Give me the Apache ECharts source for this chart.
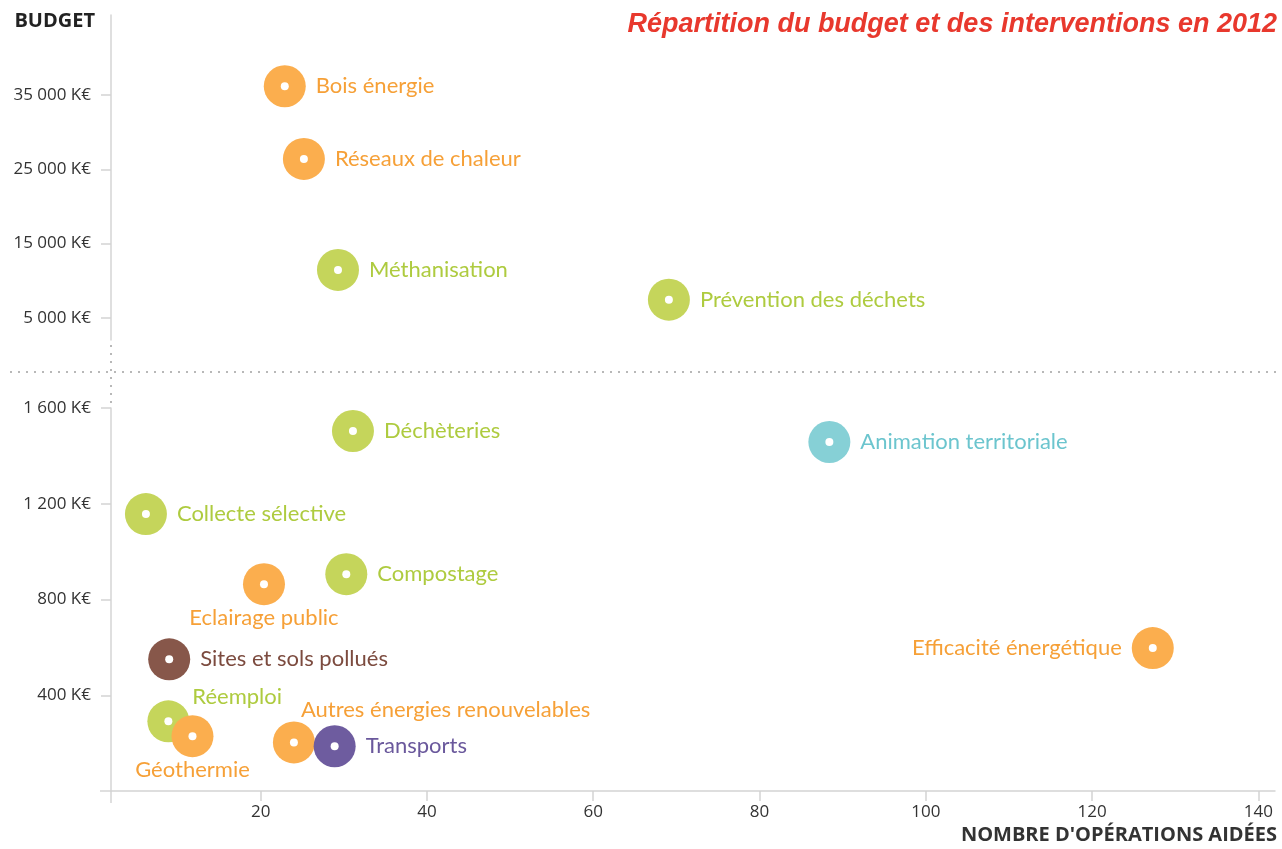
<!DOCTYPE html>
<html>
<head>
<meta charset="utf-8">
<script src="https://cdn.jsdelivr.net/npm/echarts@6/dist/echarts.min.js"></script>
<style>
  html, body { margin: 0; padding: 0; background: #fff; }
  #chart { width: 1282px; height: 849px; }
</style>
</head>
<body>
<div id="chart"></div>
<script>
// données (nombre d'opérations, budget en K€)
const names = [
  'Bois énergie', 'Réseaux de chaleur', 'Méthanisation', 'Prévention des déchets',
  'Déchèteries', 'Animation territoriale', 'Collecte sélective', 'Compostage',
  'Eclairage public', 'Sites et sols pollués', 'Efficacité énergétique',
  'Réemploi', 'Géothermie', 'Autres énergies renouvelables', 'Transports'
];
const operations = [22.9, 25.2, 29.3, 69.1, 31.1, 88.4, 6.2, 30.3, 20.4, 9.0, 127.3, 8.9, 11.8, 24.0, 28.9];
const budgets = [36200, 26400, 11450, 7430, 1504, 1458, 1157, 906, 864, 550, 597, 291, 229, 203, 187];
const filieres = [
  'energie', 'energie', 'dechets', 'dechets',
  'dechets', 'animation', 'dechets', 'dechets',
  'energie', 'sols', 'energie',
  'dechets', 'energie', 'energie', 'transports'
];
const upperTicks = [5000, 15000, 25000, 35000];
const lowerTicks = [400, 800, 1200, 1600];
const xTicks = [20, 40, 60, 80, 100, 120, 140];
const seuil = 1600; // au-dessus : partie haute de l'axe coupé

// couleurs par filière : [disque, texte]
const colors = {
  energie: ['#FBAE4E', '#F6A037'],
  dechets: ['#C5D55B', '#AECB3F'],
  animation: ['#86D0D6', '#6CC5CE'],
  sols: ['#87574A', '#7C4B3F'],
  transports: ['#6E5C9F', '#6A589C']
};

// placement des étiquettes
const labelPos = {
  'Eclairage public': { position: 'bottom', distance: 2 },
  'Géothermie': { position: 'bottom', distance: 2 },
  'Efficacité énergétique': { position: 'left', distance: 10 },
  'Réemploi': { position: 'right', distance: 3, offset: [0, -24] },
  'Autres énergies renouvelables': { position: 'right', distance: 5, offset: [-19, -33] }
};

const font = 'Lato, "Open Sans", sans-serif';
const axisFont = '"Open Sans", sans-serif';

function buildPoints(upper) {
  const pts = [];
  names.forEach((n, i) => {
    if ((budgets[i] > seuil) !== upper) return;
    const c = colors[filieres[i]];
    const lp = labelPos[n] || { position: 'right', distance: 10 };
    pts.push({
      name: n,
      value: [operations[i], budgets[i]],
      itemStyle: { color: c[0] },
      label: Object.assign({ color: c[1] }, lp)
    });
  });
  return pts;
}

function dots(points) {
  return points.map(p => ({ name: p.name, value: p.value }));
}

const upperPts = buildPoints(true);
const lowerPts = buildPoints(false);

const lineColor = '#d4d4d4';
const kEuro = v => v.toLocaleString('fr-FR').replace(/\s/g, ' ') + ' K€';

const xBase = {
  type: 'value',
  min: 2,
  max: 142,
  splitLine: { show: false }
};

var myChart = echarts.init(document.getElementById('chart'));
var option = {
  animation: false,
  title: {
    text: 'Répartition du budget et des interventions en 2012',
    right: 0,
    top: 6,
    textStyle: {
      fontFamily: '"Liberation Sans", Arial, sans-serif',
      fontStyle: 'italic',
      fontWeight: 'bold',
      fontSize: 27,
      color: '#E8382D'
    }
  },
  grid: [
    { left: 111, right: 7, top: 15, height: 325 },
    { left: 111, right: 7, top: 408, height: 383 }
  ],
  xAxis: [
    Object.assign({}, xBase, {
      gridIndex: 0,
      show: false
    }),
    Object.assign({}, xBase, {
      gridIndex: 1,
      name: "NOMBRE D'OPÉRATIONS AIDÉES",
      nameLocation: 'end',
      nameGap: 2,
      nameTextStyle: {
        fontFamily: axisFont,
        fontWeight: 'bold',
        fontSize: 20,
        color: '#333',
        align: 'right',
        verticalAlign: 'top',
        padding: [34, 0, 0, 0]
      },
      axisLine: { lineStyle: { color: lineColor, width: 1.5 } },
      axisTick: { length: 10, lineStyle: { color: lineColor, width: 1.5 }, customValues: xTicks },
      axisLabel: { customValues: xTicks, margin: 13, fontFamily: axisFont, fontSize: 17, color: '#333' }
    })
  ],
  yAxis: [
    {
      type: 'value',
      gridIndex: 0,
      min: 2000,
      max: 45800,
      name: 'BUDGET',
      nameLocation: 'end',
      nameGap: -6,
      nameTextStyle: {
        fontFamily: axisFont,
        fontWeight: 'bold',
        fontSize: 20,
        color: '#222',
        align: 'right',
        verticalAlign: 'middle',
        padding: [0, 16, 0, 0]
      },
      splitLine: { show: false },
      axisLine: { show: true, lineStyle: { color: lineColor, width: 1.5 } },
      axisTick: { show: true, length: 10, lineStyle: { color: lineColor, width: 1.5 }, customValues: upperTicks },
      axisLabel: {
        customValues: upperTicks,
        margin: 20,
        fontFamily: axisFont,
        fontSize: 17,
        color: '#333',
        formatter: kEuro
      }
    },
    {
      type: 'value',
      gridIndex: 1,
      min: 0,
      max: 1600,
      splitLine: { show: false },
      axisLine: { show: true, lineStyle: { color: lineColor, width: 1.5 } },
      axisTick: { show: true, length: 10, lineStyle: { color: lineColor, width: 1.5 }, customValues: lowerTicks },
      axisLabel: {
        customValues: lowerTicks,
        margin: 20,
        fontFamily: axisFont,
        fontSize: 17,
        color: '#333',
        formatter: kEuro
      }
    }
  ],
  series: [
    {
      type: 'scatter', xAxisIndex: 0, yAxisIndex: 0,
      symbolSize: 42,
      itemStyle: { opacity: 1 },
      data: upperPts,
      label: { show: true, formatter: '{b}', fontFamily: font, fontSize: 22 },
      emphasis: { disabled: true }
    },
    {
      type: 'scatter', xAxisIndex: 1, yAxisIndex: 1,
      symbolSize: 42,
      itemStyle: { opacity: 1 },
      data: lowerPts,
      label: { show: true, formatter: '{b}', fontFamily: font, fontSize: 22 },
      emphasis: { disabled: true }
    },
    {
      type: 'scatter', xAxisIndex: 0, yAxisIndex: 0,
      symbolSize: 8, silent: true, z: 3,
      itemStyle: { color: '#fff', opacity: 1 },
      data: dots(upperPts)
    },
    {
      type: 'scatter', xAxisIndex: 1, yAxisIndex: 1,
      symbolSize: 8, silent: true, z: 3,
      itemStyle: { color: '#fff', opacity: 1 },
      data: dots(lowerPts)
    }
  ],
  // coupure de l'axe : pointillés et débords des axes
  graphic: [
    { type: 'line', silent: true, shape: { x1: 10, y1: 372, x2: 1282, y2: 372 },
      style: { stroke: '#b8b8b8', lineWidth: 2, lineDash: [2, 6] } },
    { type: 'line', silent: true, shape: { x1: 111, y1: 345, x2: 111, y2: 408 },
      style: { stroke: '#b8b8b8', lineWidth: 2, lineDash: [2, 6] } },
    { type: 'line', silent: true, shape: { x1: 100, y1: 791, x2: 111, y2: 791 },
      style: { stroke: lineColor, lineWidth: 1.5 } },
    { type: 'line', silent: true, shape: { x1: 111, y1: 791, x2: 111, y2: 803 },
      style: { stroke: lineColor, lineWidth: 1.5 } }
  ]
};

option && myChart.setOption(option);
window.addEventListener('resize', () => {
  myChart.resize()
})
</script>
</body>
</html>
